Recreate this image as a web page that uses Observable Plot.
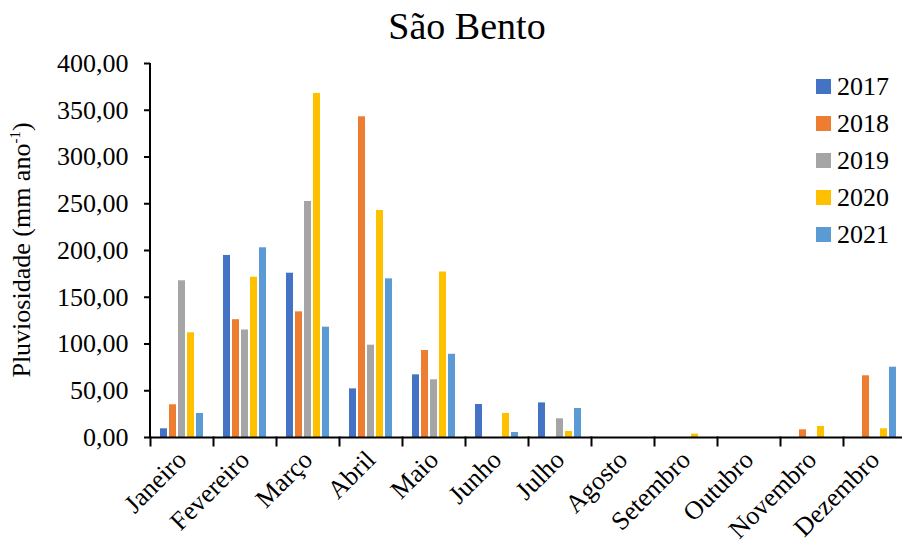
<!DOCTYPE html>
<html>
<head>
<meta charset="utf-8">
<script src="https://cdn.jsdelivr.net/npm/d3@7"></script>
<script src="https://cdn.jsdelivr.net/npm/@observablehq/plot@0.6"></script>
<style>
  body { margin: 0; background: #fff; }
  #wrap { position: relative; width: 902px; height: 548px; overflow: hidden; font-family: "Liberation Serif", Tinos, "Times New Roman", "Nimbus Roman", "DejaVu Serif", serif; color: #000; }
  #title { position: absolute; top: 3px; left: 317px; width: 300px; text-align: center; font-size: 38px; line-height: 46px; }
  #chart { position: absolute; top: 50px; left: 0; }
  #ylabel { position: absolute; left: 22px; top: 250px; transform: translate(-50%, -50%) rotate(-90deg); white-space: nowrap; font-size: 26px; }
  #ylabel sup { font-size: 15px; vertical-align: 10px; line-height: 0; }
  #legend { position: absolute; left: 816px; top: 68px; font-size: 26px; }
  .item { display: flex; align-items: center; height: 37px; }
  .sw { width: 15px; height: 15px; margin-right: 6px; }
</style>
</head>
<body>
<div id="wrap">
  <div id="title">São Bento</div>
  <div id="chart"></div>
  <div id="ylabel">Pluviosidade (mm ano<sup>-1</sup>)</div>
  <div id="legend"></div>
</div>
<script>
const months = ["Janeiro","Fevereiro","Março","Abril","Maio","Junho","Julho","Agosto","Setembro","Outubro","Novembro","Dezembro"];
const years = ["2017","2018","2019","2020","2021"];
const colors = ["#4472C4","#ED7D31","#A5A5A5","#FFC000","#5B9BD5"];
const v2017 = [9.3, 194.7, 175.7, 52, 67, 35.3, 37, 0, 0, 0, 0, 0];
const v2018 = [35, 126, 134.4, 343, 93, 0, 0, 0, 0, 0, 8.2, 66];
const v2019 = [167.6, 115, 252.4, 98.7, 61.7, 0, 20, 0, 0, 0, 0, 0];
const v2020 = [112, 171.4, 368, 242.8, 177, 25.7, 6.4, 0, 3.6, 0, 11.8, 9.3];
const v2021 = [25.7, 202.9, 118, 169.7, 89, 5.3, 31, 0, 0, 0, 0, 75.2];
const yTicks = [0, 50, 100, 150, 200, 250, 300, 350, 400];

const series = [v2017, v2018, v2019, v2020, v2021];
const data = [];
years.forEach((yr, i) => months.forEach((m, j) => data.push({month: m, year: yr, value: series[i][j]})));

const fmt = d => d.toFixed(2).replace(".", ",");
const FONT = '"Liberation Serif", Tinos, "Times New Roman", "Nimbus Roman", "DejaVu Serif", serif';

const chart = Plot.plot({
  width: 902,
  height: 498,
  marginLeft: 150,
  marginRight: -4,
  marginTop: 13,
  marginBottom: 111,
  style: {fontFamily: FONT, fontSize: "26px", color: "#000", background: "transparent", overflow: "visible"},
  fx: {domain: months, padding: 0, label: null},
  x: {domain: years, paddingInner: 0.17, paddingOuter: 0.86, axis: null},
  y: {domain: [0, 400], label: null},
  color: {domain: years, range: colors},
  marks: [
    Plot.barY(data, {fx: "month", x: "year", y: "value", fill: "year"}),
    Plot.ruleY([0], {stroke: "#000", strokeWidth: 2}),
    Plot.frame({anchor: "left", insetTop: 374, insetBottom: -8, stroke: "#000", strokeWidth: 2}),
    Plot.rect([months[0]], {fx: d => d, y1: 0, y2: 400, insetLeft: -1, insetRight: 62, fill: "#000"}),
    Plot.axisY({ticks: yTicks, tickFormat: fmt, tickSize: 6, tickPadding: 16, fontSize: 26, stroke: "#000", strokeWidth: 2, strokeOpacity: 1, fill: "#000", label: null}),
    Plot.axisFx({anchor: "bottom", tickSize: 0, tickRotate: -45, tickPadding: 18, fontSize: 26, fill: "#000", label: null})
  ]
});
document.getElementById("chart").appendChild(chart);

const legend = document.getElementById("legend");
years.forEach((yr, i) => {
  const it = document.createElement("div");
  it.className = "item";
  it.innerHTML = `<span class="sw" style="background:${colors[i]}"></span><span>${yr}</span>`;
  legend.appendChild(it);
});
</script>
</body>
</html>
